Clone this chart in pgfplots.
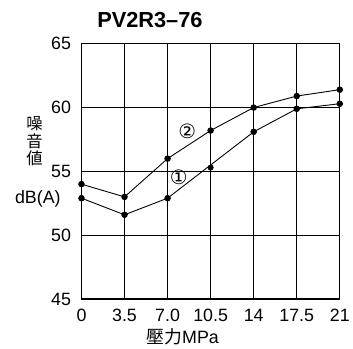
\documentclass[border=0pt]{standalone}
\usepackage{pgfplots}
\pgfplotsset{compat=1.18}
\usepackage{fontspec}
\setmainfont{Liberation Sans}
\newfontfamily\cjk{Noto Sans CJK JP}
\newfontfamily\dejavu{DejaVu Sans}
\begin{document}
\begin{tikzpicture}[x=1bp,y=1bp]
\begin{axis}[
  scale only axis,
  width=260bp, height=257bp,
  xmin=0, xmax=21, ymin=45, ymax=65,
  xtick={0,3.5,7,10.5,14,17.5,21},
  xticklabels={0,3.5,7.0,10.5,14,17.5,21},
  ytick={45,50,55,60,65},
  grid=major,
  major grid style={black, line width=1.2pt},
  axis line style={black, line width=1.2pt},
  major tick length=0pt,
  tick label style={font=\fontsize{18}{20}\selectfont},
  /pgf/number format/assume math mode=true,
  xticklabel style={yshift=-7bp},
  yticklabel style={xshift=-7bp},
  clip=false,
]
\addplot[black, line width=0.9pt, mark=*, mark size=2.8pt] coordinates {
 (0,54.0) (3.5,53.0) (7,56.0) (10.5,58.2) (14,60.0) (17.5,60.9) (21,61.4)};
\addplot[black, line width=0.9pt, mark=*, mark size=2.8pt] coordinates {
 (0,52.9) (3.5,51.6) (7,52.9) (14,58.1) (17.5,59.9) (21,60.3)};
\addplot[only marks, black, mark=*, mark size=2.8pt] coordinates {(10.5,55.3)};
\node[font=\dejavu\fontsize{20}{22}\selectfont] at (axis cs:8.6,58.15) {②};
\node[font=\dejavu\fontsize{20}{22}\selectfont] at (axis cs:7.9,54.55) {①};
\node[font=\bfseries\fontsize{22}{24}\selectfont] at (axis description cs:0.265,1.093) {PV2R3--76};
\node[font=\cjk\fontsize{16.5}{17.5}\selectfont, align=center, inner sep=0pt] at (axis description cs:-0.182,0.618) {噪\\音\\値};
\node[font=\fontsize{18}{20}\selectfont] at (axis description cs:-0.169,0.393) {dB(A)};
\node[font=\fontsize{18}{20}\selectfont] at (axis description cs:0.392,-0.148) {{\cjk 壓力}MPa};
\path (axis description cs:-0.3154,-0.1634) rectangle (axis description cs:1.0423,1.1712);
\end{axis}
\end{tikzpicture}
\end{document}
